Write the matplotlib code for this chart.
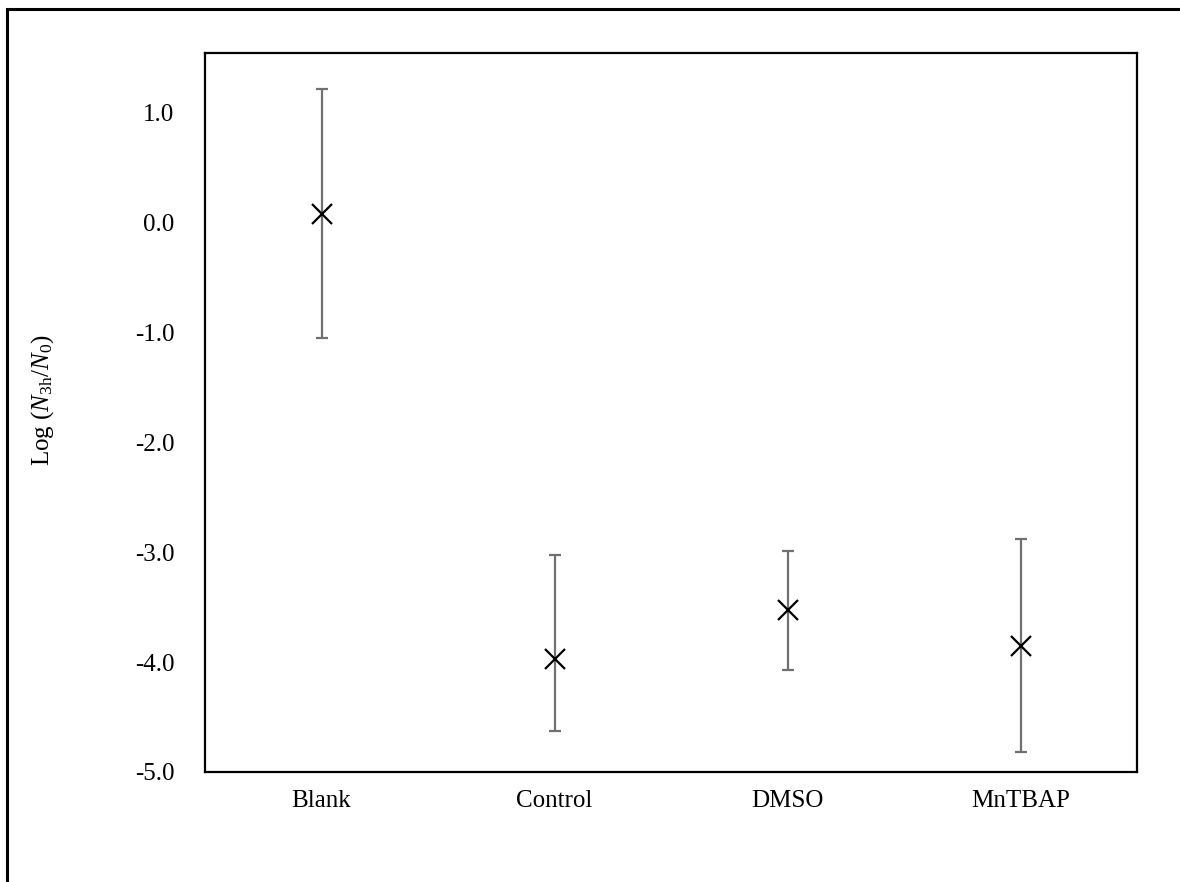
import matplotlib
matplotlib.use('Agg')
import matplotlib.pyplot as plt
import numpy as np
from matplotlib.patches import Rectangle

# values
groups = ['Blank', 'Control', 'DMSO', 'MnTBAP']
means = [0.08, -3.97, -3.53, -3.85]
upper = [1.215, -3.03, -2.99, -2.88]
lower = [-1.05, -4.63, -4.07, -4.82]
yticks = [1.0, 0.0, -1.0, -2.0, -3.0, -4.0, -5.0]

plt.rcParams['font.family'] = ['Liberation Serif', 'DejaVu Serif']
plt.rcParams['mathtext.fontset'] = 'custom'
plt.rcParams['mathtext.rm'] = 'Liberation Serif'
plt.rcParams['mathtext.it'] = 'Liberation Serif:italic'

W, H = 1180, 882
fig = plt.figure(figsize=(W / 100, H / 100), dpi=100)
# outer chart frame
fig.patches.append(Rectangle((7 / W, -0.01), 1.2, (H - 9) / H + 0.01, transform=fig.transFigure,
                             fill=False, edgecolor='black', linewidth=2.2))

ax = fig.add_axes([205 / W, 1 - 772 / H, (1137 - 205) / W, (772 - 53) / H])

x = np.arange(len(groups))
m = np.array(means)
err = [m - np.array(lower), np.array(upper) - m]
ax.errorbar(x, m, yerr=err, fmt='none', ecolor='#707070', elinewidth=1.6,
            capsize=4.5, capthick=1.6, zorder=2)
ax.plot(x, m, linestyle='none', marker='x', markersize=15, markeredgewidth=1.6,
        color='black', zorder=3)

ax.set_xlim(-0.5, 3.5)
ax.set_ylim(-5.0, 1.54)
ax.set_yticks(yticks)
ax.set_yticklabels(['%.1f' % v for v in yticks])
ax.set_xticks(x)
ax.set_xticklabels(groups)
ax.tick_params(axis='both', length=0, labelsize=18)
ax.tick_params(axis='y', pad=22)
ax.tick_params(axis='x', pad=13)
for s in ax.spines.values():
    s.set_linewidth(1.6)

fig.text(43 / W, 1 - 400 / H, r'Log ($N_{\mathrm{3h}}/N_0$)', fontsize=18,
         rotation=90, ha='center', va='center')

fig.savefig('out.png', dpi=100)
